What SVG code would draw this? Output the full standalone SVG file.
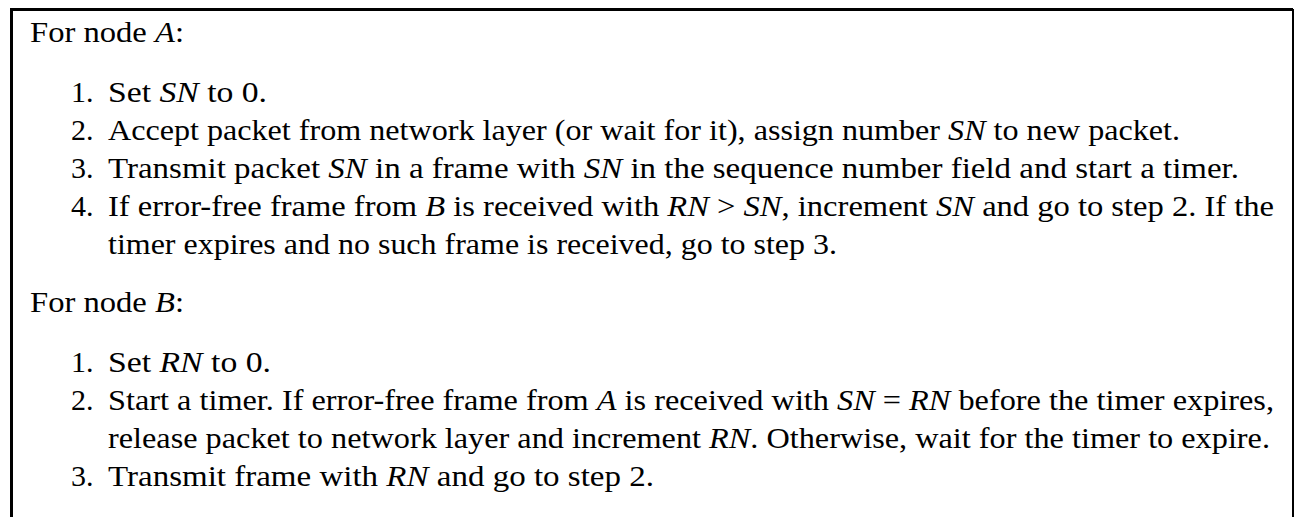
<svg xmlns="http://www.w3.org/2000/svg" width="1296" height="517" viewBox="0 0 1296 517">
<style>
text{font-family:"Liberation Serif","Times New Roman",serif;font-size:30px;fill:#000}
.m{font-style:italic}
.frame{fill:none;stroke:#000}
</style>
<rect width="1296" height="517" fill="#fff"/>
<g id="frame">
<path class="frame" d="M11.5,517 V9.5 H1293" stroke-width="3"/>
<path class="frame" d="M1293,9 V517" stroke-width="2"/>
</g>
<g id="nodeA">
<text x="30" y="42" textLength="154" lengthAdjust="spacingAndGlyphs">For node <tspan class="m">A</tspan>:</text>
<text x="71" y="102">1.</text>
<text x="108" y="102" textLength="159" lengthAdjust="spacingAndGlyphs">Set <tspan class="m">SN</tspan> to 0.</text>
<text x="71" y="140">2.</text>
<text x="108" y="140" textLength="1072" lengthAdjust="spacingAndGlyphs">Accept packet from network layer (or wait for it), assign number <tspan class="m">SN</tspan> to new packet.</text>
<text x="71" y="178">3.</text>
<text x="108" y="178" textLength="1131" lengthAdjust="spacingAndGlyphs">Transmit packet <tspan class="m">SN</tspan> in a frame with <tspan class="m">SN</tspan> in the sequence number field and start a timer.</text>
<text x="71" y="216">4.</text>
<text x="108" y="216" textLength="1166" lengthAdjust="spacingAndGlyphs">If error-free frame from <tspan class="m">B</tspan> is received with <tspan class="m">RN</tspan> &gt; <tspan class="m">SN</tspan>, increment <tspan class="m">SN</tspan> and go to step 2.  If the</text>
<text x="108" y="254" textLength="729" lengthAdjust="spacingAndGlyphs">timer expires and no such frame is received, go to step 3.</text>
</g>
<g id="nodeB">
<text x="30" y="312" textLength="154" lengthAdjust="spacingAndGlyphs">For node <tspan class="m">B</tspan>:</text>
<text x="71" y="372">1.</text>
<text x="108" y="372" textLength="163" lengthAdjust="spacingAndGlyphs">Set <tspan class="m">RN</tspan> to 0.</text>
<text x="71" y="410">2.</text>
<text x="108" y="410" textLength="1166" lengthAdjust="spacingAndGlyphs">Start a timer.  If error-free frame from <tspan class="m">A</tspan> is received with <tspan class="m">SN</tspan> = <tspan class="m">RN</tspan> before the timer expires,</text>
<text x="108" y="448" textLength="1162" lengthAdjust="spacingAndGlyphs">release packet to network layer and increment <tspan class="m">RN</tspan>. Otherwise, wait for the timer to expire.</text>
<text x="71" y="486">3.</text>
<text x="108" y="486" textLength="546" lengthAdjust="spacingAndGlyphs">Transmit frame with <tspan class="m">RN</tspan> and go to step 2.</text>
</g>
</svg>
